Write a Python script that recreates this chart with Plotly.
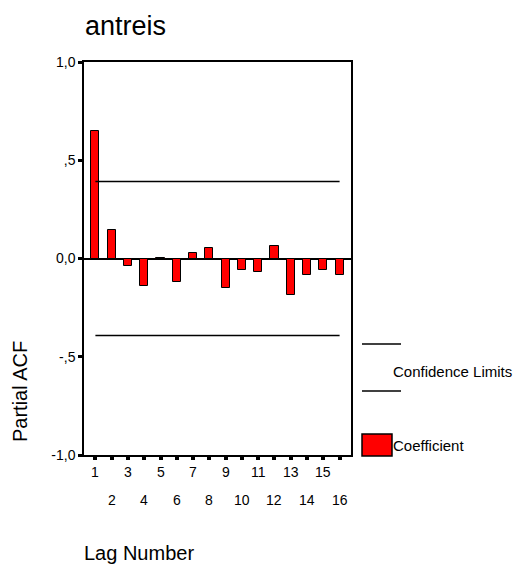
import plotly.graph_objects as go

# Partial autocorrelation of the series "antreis"
lags = list(range(1, 17))
pacf = [0.65, 0.146, -0.039, -0.14, 0.005, -0.118, 0.029, 0.051,
        -0.149, -0.056, -0.071, 0.066, -0.188, -0.086, -0.056, -0.086]
conf_limit = 0.392

y_tickvals = [1.0, 0.5, 0.0, -0.5, -1.0]
y_ticktext = ["1,0", ",5", "0,0", "-,5", "-1,0"]

FONT = "Liberation Sans, Arial, sans-serif"
W, H = 517, 564
ML, MR, MT, MB = 84, 166, 62, 109
PW, PH = W - ML - MR, H - MT - MB


def px(x):
    return (x - ML) / PW


def py(y):
    return (H - MB - y) / PH


fig = go.Figure()

fig.add_trace(go.Bar(
    x=lags, y=pacf, width=0.5,
    marker=dict(color="#ff0000", line=dict(color="black", width=1)),
    showlegend=False, hoverinfo="x+y",
))

for sign in (1, -1):
    fig.add_trace(go.Scatter(
        x=[lags[0], lags[-1]], y=[sign * conf_limit] * 2,
        mode="lines", line=dict(color="black", width=1.5),
        showlegend=False, hoverinfo="skip",
    ))

annotations = []
# staggered lag labels below the axis
for lag in lags:
    annotations.append(dict(
        x=lag, xref="x", y=0, yref="paper", text=str(lag), showarrow=False,
        yanchor="middle", xanchor="center",
        yshift=-17 if lag % 2 else -45,
        font=dict(family=FONT, size=14, color="black"),
    ))

annotations += [
    dict(x=px(83), y=py(26), xref="paper", yref="paper", text="antreis",
         showarrow=False, xanchor="left", yanchor="middle",
         font=dict(family=FONT, size=27, color="black")),
    dict(x=px(20), y=py(392), xref="paper", yref="paper", text="Partial ACF",
         showarrow=False, xanchor="center", yanchor="middle", textangle=-90,
         font=dict(family=FONT, size=20, color="black")),
    dict(x=px(82), y=py(553), xref="paper", yref="paper", text="Lag Number",
         showarrow=False, xanchor="left", yanchor="middle",
         font=dict(family=FONT, size=20, color="black")),
    dict(x=px(391), y=py(371), xref="paper", yref="paper", text="Confidence Limits",
         showarrow=False, xanchor="left", yanchor="middle",
         font=dict(family=FONT, size=15, color="black")),
    dict(x=px(391), y=py(445), xref="paper", yref="paper", text="Coefficient",
         showarrow=False, xanchor="left", yanchor="middle",
         font=dict(family=FONT, size=15, color="black")),
]

shapes = [
    dict(type="line", xref="paper", yref="paper", x0=px(362), x1=px(401),
         y0=py(344), y1=py(344), line=dict(color="black", width=1.5)),
    dict(type="line", xref="paper", yref="paper", x0=px(362), x1=px(401),
         y0=py(391), y1=py(391), line=dict(color="black", width=1.5)),
    dict(type="rect", xref="paper", yref="paper", x0=px(362), x1=px(392),
         y0=py(456), y1=py(434), fillcolor="#ff0000",
         line=dict(color="black", width=1.5)),
]

fig.update_layout(
    width=W, height=H,
    margin=dict(l=ML, r=MR, t=MT, b=MB),
    paper_bgcolor="white", plot_bgcolor="white",
    font=dict(family=FONT, color="black"),
    annotations=annotations, shapes=shapes,
    bargap=0,
    xaxis=dict(
        range=[0.3, 16.7], tickvals=lags, showticklabels=False,
        ticks="outside", ticklen=3, tickwidth=4, tickcolor="black",
        showline=True, linecolor="black", linewidth=1.5, mirror=True,
        showgrid=False, zeroline=False, fixedrange=True,
    ),
    yaxis=dict(
        range=[-1, 1], tickvals=y_tickvals, ticktext=y_ticktext,
        ticks="outside", ticklen=4, tickwidth=3, tickcolor="black",
        tickfont=dict(family=FONT, size=14, color="black"),
        showline=True, linecolor="black", linewidth=1.5, mirror=True,
        showgrid=False, zeroline=True, zerolinecolor="black", zerolinewidth=1.5,
        fixedrange=True,
    ),
)

fig.write_html("out.html")
